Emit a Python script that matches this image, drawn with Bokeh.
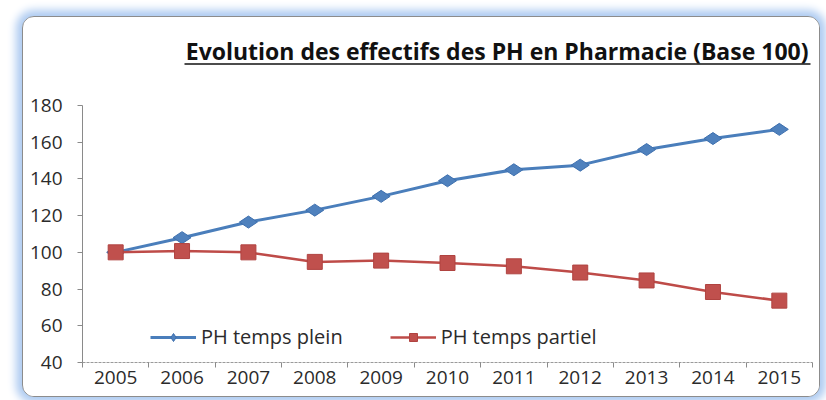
from bokeh.plotting import figure
from bokeh.layouts import column
from bokeh.models import Range1d, FixedTicker, Legend, LegendItem
from bokeh.core.properties import value
from bokeh.embed import file_html
from bokeh.resources import INLINE

# ---- data ----
years = [2005, 2006, 2007, 2008, 2009, 2010, 2011, 2012, 2013, 2014, 2015]
temps_plein = [100, 108, 116.5, 123, 130.5, 139, 145, 147.5, 156, 162, 167]
temps_partiel = [100, 100.7, 100, 94.8, 95.5, 94.2, 92.4, 89, 84.7, 78.4, 73.7]
y_ticks = [40, 60, 80, 100, 120, 140, 160, 180]
title_text = "Evolution des effectifs des PH en Pharmacie (Base 100)"
label_plein = "PH temps plein"
label_partiel = "PH temps partiel"

FONT = "Open Sans"
BLUE = "#4A7EBB"
RED = "#BE4B48"
TXT = "#2b2b2b"
W = 796
HEAD_H = 60
LEFT, RIGHT = 59, 7

# ---- header figure (title + underline); its frame is aligned with the chart frame ----
head = figure(width=W, height=HEAD_H, output_backend="svg", toolbar_location=None,
              x_range=Range1d(LEFT, W - RIGHT), y_range=Range1d(HEAD_H, 0),
              min_border=0, min_border_left=LEFT, min_border_right=RIGHT,
              x_axis_type=None, y_axis_type=None)
head.outline_line_color = None
head.grid.visible = False
head.text(x=[785], y=[33], text=[title_text], text_align="right",
          text_baseline="alphabetic", text_font=value(FONT),
          text_font_style="bold", text_font_size="23px", text_color="#111111")
head.segment(x0=[161], y0=[46.5], x1=[787], y1=[46.5],
             line_color="#111111", line_width=1.5)

# ---- main chart ----
p = figure(width=W, height=319, output_backend="svg", toolbar_location=None,
           x_range=Range1d(years[0] - 0.5, years[-1] + 0.5),
           y_range=Range1d(y_ticks[0], y_ticks[-1]),
           min_border_left=LEFT, min_border_right=RIGHT,
           min_border_top=28, min_border_bottom=34)
p.outline_line_color = None
p.grid.visible = False

xa = p.xaxis[0]
xa.ticker = FixedTicker(ticks=years,
                        minor_ticks=[y - 0.5 for y in years] + [years[-1] + 0.5])
xa.major_tick_line_color = None
xa.major_tick_out = 5
xa.major_tick_in = 0
xa.minor_tick_line_color = "#8a8a8a"
xa.minor_tick_out = 5
xa.minor_tick_in = 0
xa.axis_line_color = "#9a9a9a"
xa.axis_line_dash = "3 1"
xa.major_label_text_font = FONT
xa.major_label_text_font_size = "19px"
xa.major_label_text_color = TXT
xa.major_label_standoff = 3

ya = p.yaxis[0]
ya.ticker = FixedTicker(ticks=y_ticks)
ya.minor_tick_line_color = None
ya.major_tick_out = 5
ya.major_tick_in = 0
ya.major_tick_line_color = "#8a8a8a"
ya.axis_line_color = "#8a8a8a"
ya.major_label_text_font = FONT
ya.major_label_text_font_size = "19px"
ya.major_label_text_color = TXT
ya.major_label_standoff = 15

l1 = p.line(years, temps_plein, line_color=BLUE, line_width=3)
s1 = p.scatter(years, temps_plein, marker="diamond", size=18, angle=1.5708,
               fill_color="#4F81BD", line_color="#3d6fae", line_width=1)
l2 = p.line(years, temps_partiel, line_color=RED, line_width=2.5)
s2 = p.scatter(years, temps_partiel, marker="square", size=15,
               fill_color="#C0504D", line_color="#b04340", line_width=1)

legend = Legend(items=[LegendItem(label=label_plein, renderers=[l1, s1]),
                       LegendItem(label=label_partiel, renderers=[l2, s2])],
                orientation="horizontal", location=(68, 12),
                glyph_width=46, glyph_height=20, label_standoff=5, spacing=47,
                padding=0, margin=0, border_line_color=None,
                background_fill_alpha=0,
                label_text_font=FONT, label_text_font_size="20px",
                label_text_color=TXT)
p.add_layout(legend)

layout = column(head, p, spacing=0)
layout.styles = {"margin-left": "22px", "margin-top": "16px",
                 "border": "1px solid #8c8c8c", "border-radius": "12px",
                 "box-shadow": "0 0 8px 6px #aecbf1", "overflow": "hidden",
                 "background-color": "white"}

open("out.html", "w").write(file_html(layout, INLINE))
